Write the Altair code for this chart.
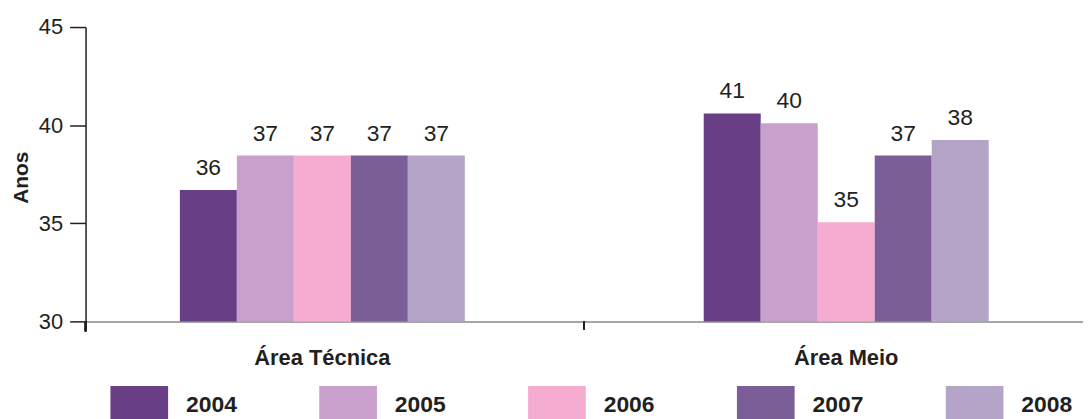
import altair as alt
import pandas as pd

categories = ["Área Técnica", "Área Meio"]
years = ["2004", "2005", "2006", "2007", "2008"]
tecnica_values = [36.7, 38.45, 38.45, 38.45, 38.45]
meio_values = [40.6, 40.1, 35.05, 38.45, 39.25]
tecnica_labels = ["36", "37", "37", "37", "37"]
meio_labels = ["41", "40", "35", "37", "38"]
colors = ["#683F87", "#C8A0CB", "#F5ACD0", "#7B5D98", "#B4A4C8"]
y_ticks = [30, 35, 40, 45]
y_min = 30
y_max = 45

rows = []
for cat, vals, labs in [(categories[0], tecnica_values, tecnica_labels),
                        (categories[1], meio_values, meio_labels)]:
    for yr, v, l in zip(years, vals, labs):
        rows.append({"categoria": cat, "ano": yr, "valor": v, "rotulo": l})
df = pd.DataFrame(rows)

FONT = "Liberation Sans, Arial, Helvetica, sans-serif"
TXT = "#231f20"
W, H = 1003, 296

x_enc = alt.X(
    "categoria:N", sort=categories,
    scale=alt.Scale(paddingInner=0.456, paddingOuter=0.18),
    axis=alt.Axis(
        title=None, labelAngle=0, labelFont=FONT, labelFontSize=22,
        labelFontWeight="bold", labelColor=TXT, labelPadding=26,
        domainColor="#888888", domainWidth=1.5, ticks=False,
    ),
)
xo_enc = alt.XOffset("ano:N", sort=years,
                     scale=alt.Scale(paddingOuter=0, paddingInner=0))
y_scale = alt.Scale(domain=[y_min, y_max], nice=False, zero=False)
y_enc = alt.Y(
    "valor:Q",
    scale=y_scale,
    axis=alt.Axis(
        values=y_ticks, title="Anos", grid=False,
        labelFont=FONT, labelFontSize=22, labelColor=TXT, labelPadding=7,
        tickSize=16, tickColor="#231f20", tickWidth=1.5,
        domainColor="#231f20", domainWidth=1.5,
        titleFont=FONT, titleFontSize=21, titleFontWeight="bold", titleColor=TXT,
        titleX=-64, titleY=151, titleBaseline="middle", titleAngle=270,
    ),
)

base = alt.Chart(df).encode(x=x_enc, xOffset=xo_enc, y=y_enc)

bars = base.mark_bar().encode(
    y2=alt.Y2Datum(y_min),
    color=alt.Color(
        "ano:N", sort=years,
        scale=alt.Scale(domain=years, range=colors),
        legend=alt.Legend(
            title=None, orient="none", legendX=25, legendY=351,
            direction="horizontal", columns=5, padding=0,
            symbolType="M-1,-0.655H1V0.655H-1Z", symbolSize=3364,
            symbolStrokeWidth=0, symbolOpacity=1, symbolOffset=0,
            labelFont=FONT, labelFontSize=23, labelFontWeight="bold",
            labelColor=TXT, labelOffset=18, columnPadding=82,
        ),
    ),
)

text = base.mark_text(
    dy=-10, baseline="bottom", align="center",
    font=FONT, fontSize=23, color=TXT,
).encode(text="rotulo:N")

# small axis tick between the two groups and the downward extension of the y axis
mid_tick = alt.Chart(df).mark_rule(color="#231f20", strokeWidth=1.5).encode(
    x=alt.value(W / 2), y=alt.value(H), y2=alt.value(H + 8)
)
left_tick = alt.Chart(df).mark_rule(color="#231f20", strokeWidth=1.5).encode(
    x=alt.value(0), y=alt.value(H), y2=alt.value(H + 10)
)

chart = alt.layer(bars, text, mid_tick, left_tick).properties(
    width=W, height=H,
    padding={"left": 78, "top": 18, "right": 0, "bottom": 97},
    autosize=alt.AutoSizeParams(type="none"),
).configure_view(stroke=None)

chart.save("out.html", embed_options={"renderer": "svg", "actions": False})
